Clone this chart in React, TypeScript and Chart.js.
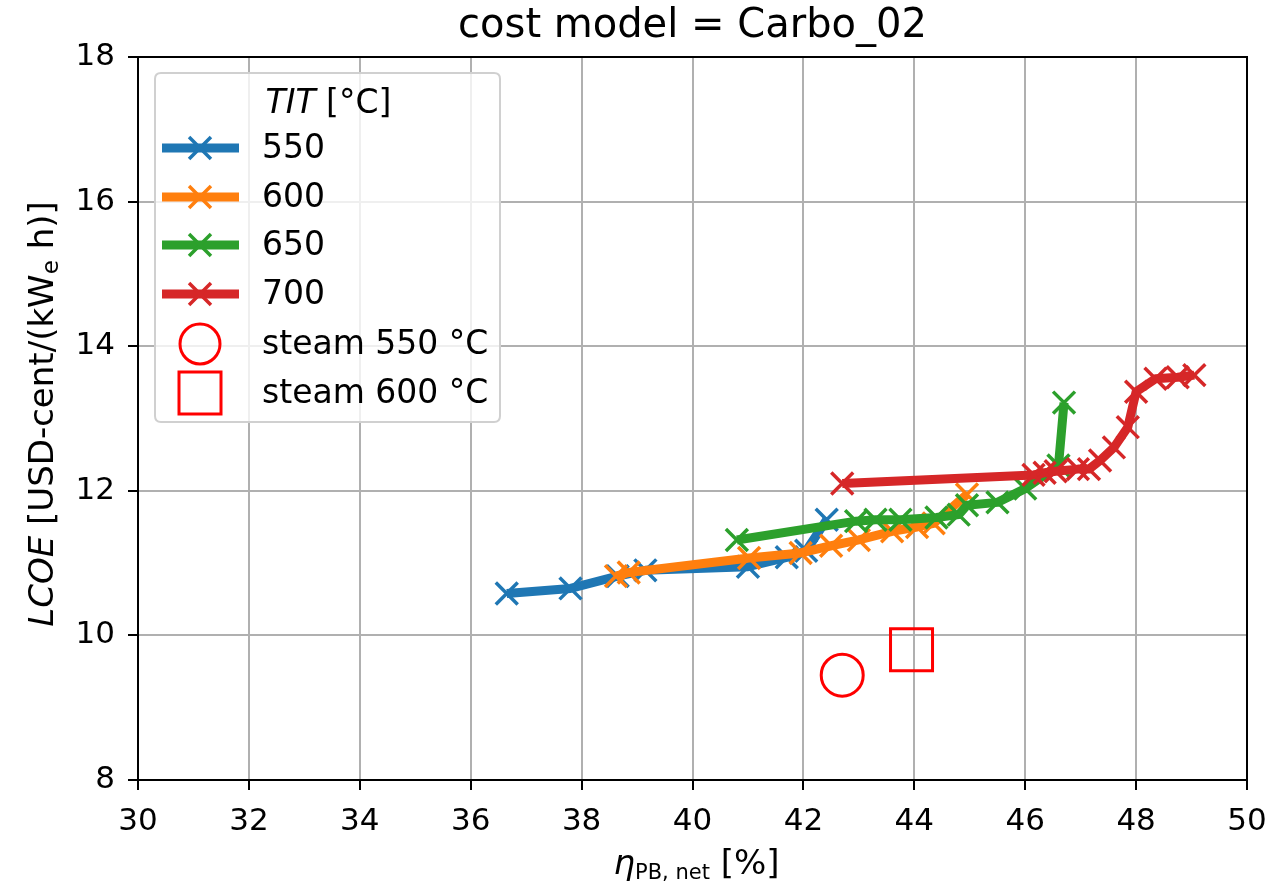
import React, { useEffect, useRef } from 'react';
import { Chart, registerables } from 'chart.js';

Chart.register(...registerables);

const FONT = '"DejaVu Sans", sans-serif';

// ---- data ----
const xTickValues = [30, 32, 34, 36, 38, 40, 42, 44, 46, 48, 50];
const yTickValues = [8, 10, 12, 14, 16, 18];

const seriesLabels = ['550', '600', '650', '700'];
const seriesColors = ['#1f77b4', '#ff7f0e', '#2ca02c', '#d62728'];

const eff550 = [36.65, 37.8, 38.65, 39.15, 41.0, 41.7, 42.05, 42.42];
const lcoe550 = [10.58, 10.65, 10.82, 10.9, 10.95, 11.08, 11.17, 11.6];

const eff600 = [38.62, 38.85, 41.02, 41.95, 42.5, 43.0, 43.6, 44.05, 44.35, 44.95];
const lcoe600 = [10.82, 10.87, 11.07, 11.14, 11.24, 11.32, 11.44, 11.5, 11.55, 11.95];

const eff650 = [40.8, 42.95, 43.3, 43.75, 44.4, 44.8, 44.95, 45.5, 46.0, 46.6, 46.7];
const lcoe650 = [11.32, 11.58, 11.6, 11.6, 11.63, 11.67, 11.8, 11.84, 12.03, 12.35, 13.22];

const eff700 = [42.7, 46.15, 46.35, 46.55, 46.95, 47.15, 47.35, 47.6, 47.85, 48.0, 48.35, 48.75, 49.05];
const lcoe700 = [12.1, 12.22, 12.25, 12.27, 12.3, 12.3, 12.42, 12.6, 12.88, 13.37, 13.55, 13.57, 13.6];

const steamLabels = ['steam 550 °C', 'steam 600 °C'];
const steamEff = [42.7, 43.95];
const steamLcoe = [9.45, 9.8];

const titleText = 'cost model = Carbo_02';

// ---- helpers ----
type Seg = { text: string; font: string; dy: number };

function segWidth(ctx: CanvasRenderingContext2D, segs: Seg[]) {
  let w = 0;
  for (const s of segs) {
    ctx.font = s.font;
    w += ctx.measureText(s.text).width;
  }
  return w;
}

function drawSegs(ctx: CanvasRenderingContext2D, segs: Seg[], cx: number, baseline: number) {
  const w = segWidth(ctx, segs);
  let x = cx - w / 2;
  ctx.textAlign = 'left';
  ctx.textBaseline = 'alphabetic';
  for (const s of segs) {
    ctx.font = s.font;
    ctx.fillText(s.text, x, baseline + s.dy);
    x += ctx.measureText(s.text).width;
  }
}

function drawX(ctx: CanvasRenderingContext2D, x: number, y: number, r: number, color: string) {
  const o = r * Math.SQRT1_2;
  ctx.save();
  ctx.strokeStyle = color;
  ctx.lineWidth = 3.5;
  ctx.beginPath();
  ctx.moveTo(x - o, y - o);
  ctx.lineTo(x + o, y + o);
  ctx.moveTo(x - o, y + o);
  ctx.lineTo(x + o, y - o);
  ctx.stroke();
  ctx.restore();
}

const decorPlugin = {
  id: 'decor',
  afterDraw(chart: any) {
    const ctx: CanvasRenderingContext2D = chart.ctx;
    const ca = chart.chartArea;
    ctx.save();
    // frame
    ctx.strokeStyle = '#000';
    ctx.lineWidth = 2;
    ctx.strokeRect(ca.left, ca.top, ca.right - ca.left, ca.bottom - ca.top);

    ctx.fillStyle = '#000';
    // title
    drawSegs(ctx, [{ text: titleText, font: `40px ${FONT}`, dy: 0 }], (ca.left + ca.right) / 2, 37);

    // x label
    drawSegs(
      ctx,
      [
        { text: 'η', font: `italic 34px ${FONT}`, dy: 0 },
        { text: 'PB, net', font: `21px ${FONT}`, dy: 5 },
        { text: ' [%]', font: `34px ${FONT}`, dy: 0 },
      ],
      (ca.left + ca.right) / 2 + 4,
      874
    );

    // y label
    ctx.save();
    ctx.translate(53, 414);
    ctx.rotate(-Math.PI / 2);
    drawSegs(
      ctx,
      [
        { text: 'LCOE', font: `italic 34px ${FONT}`, dy: 0 },
        { text: ' [USD-cent/(kW', font: `34px ${FONT}`, dy: 0 },
        { text: 'e', font: `23px ${FONT}`, dy: 5 },
        { text: ' h)]', font: `34px ${FONT}`, dy: 0 },
      ],
      0,
      0
    );
    ctx.restore();

    // legend
    const lx = 155, ly = 73, lw = 345, lh = 349, rr = 6;
    ctx.beginPath();
    ctx.moveTo(lx + rr, ly);
    ctx.lineTo(lx + lw - rr, ly);
    ctx.quadraticCurveTo(lx + lw, ly, lx + lw, ly + rr);
    ctx.lineTo(lx + lw, ly + lh - rr);
    ctx.quadraticCurveTo(lx + lw, ly + lh, lx + lw - rr, ly + lh);
    ctx.lineTo(lx + rr, ly + lh);
    ctx.quadraticCurveTo(lx, ly + lh, lx, ly + lh - rr);
    ctx.lineTo(lx, ly + rr);
    ctx.quadraticCurveTo(lx, ly, lx + rr, ly);
    ctx.closePath();
    ctx.fillStyle = 'rgba(255,255,255,0.8)';
    ctx.fill();
    ctx.strokeStyle = '#d0d0d0';
    ctx.lineWidth = 2;
    ctx.stroke();

    ctx.fillStyle = '#000';
    drawSegs(
      ctx,
      [
        { text: 'TIT', font: `italic 33px ${FONT}`, dy: 0 },
        { text: ' [°C]', font: `33px ${FONT}`, dy: 0 },
      ],
      lx + lw / 2 + 1,
      113
    );

    const rowY = [148, 197, 245, 294, 344, 393];
    const handleL = 162, handleR = 239, handleC = 200, textX = 262;
    seriesLabels.forEach((lab, i) => {
      const y = rowY[i];
      ctx.strokeStyle = seriesColors[i];
      ctx.lineWidth = 9;
      ctx.lineCap = 'butt';
      ctx.beginPath();
      ctx.moveTo(handleL, y);
      ctx.lineTo(handleR, y);
      ctx.stroke();
      drawX(ctx, handleC, y, 15.5, seriesColors[i]);
      ctx.fillStyle = '#000';
      ctx.font = `33px ${FONT}`;
      ctx.textAlign = 'left';
      ctx.textBaseline = 'middle';
      ctx.fillText(lab, textX, y + 1);
    });
    // steam circle & square
    ctx.strokeStyle = '#ff0000';
    ctx.lineWidth = 3;
    ctx.beginPath();
    ctx.arc(handleC, rowY[4], 20, 0, Math.PI * 2);
    ctx.stroke();
    ctx.strokeRect(handleC - 21, rowY[5] - 21, 42, 42);
    ctx.fillStyle = '#000';
    ctx.font = `33px ${FONT}`;
    ctx.textAlign = 'left';
    ctx.textBaseline = 'middle';
    ctx.fillText(steamLabels[0], textX, rowY[4] + 1);
    ctx.fillText(steamLabels[1], textX, rowY[5] + 1);

    ctx.restore();
  },
};

function toPoints(xs: number[], ys: number[]) {
  return xs.map((x, i) => ({ x, y: ys[i] }));
}

export default function App() {
  const ref = useRef<HTMLCanvasElement | null>(null);

  useEffect(() => {
    if (!ref.current) return;
    const effs = [eff550, eff600, eff650, eff700];
    const lcoes = [lcoe550, lcoe600, lcoe650, lcoe700];
    const lineSets = seriesLabels.map((lab, i) => ({
      type: 'line' as const,
      label: lab,
      data: toPoints(effs[i], lcoes[i]),
      borderColor: seriesColors[i],
      backgroundColor: seriesColors[i],
      borderWidth: 9,
      borderJoinStyle: 'round' as const,
      pointStyle: 'crossRot' as const,
      pointRadius: 15.5,
      pointBorderWidth: 3.5,
      pointBorderColor: seriesColors[i],
      pointBackgroundColor: seriesColors[i],
      showLine: true,
      fill: false,
      tension: 0,
      order: 4 - i,
    }));
    const steamSets = [
      {
        type: 'scatter' as const,
        label: steamLabels[0],
        data: [{ x: steamEff[0], y: steamLcoe[0] }],
        pointStyle: 'circle' as const,
        pointRadius: 21,
        borderWidth: 3,
        pointBorderColor: '#ff0000',
        borderColor: '#ff0000',
        pointBackgroundColor: 'rgba(0,0,0,0)',
        backgroundColor: 'rgba(0,0,0,0)',
        order: 0,
      },
      {
        type: 'scatter' as const,
        label: steamLabels[1],
        data: [{ x: steamEff[1], y: steamLcoe[1] }],
        pointStyle: 'rect' as const,
        pointRadius: 29.7,
        borderWidth: 3,
        pointBorderColor: '#ff0000',
        borderColor: '#ff0000',
        pointBackgroundColor: 'rgba(0,0,0,0)',
        backgroundColor: 'rgba(0,0,0,0)',
        order: 0,
      },
    ];

    const chart = new Chart(ref.current, {
      type: 'line',
      data: { datasets: [...lineSets, ...steamSets] as any },
      options: {
        animation: false,
        responsive: false,
        devicePixelRatio: 1,
        parsing: false as any,
        layout: { autoPadding: false, padding: { top: 57, right: 29, left: 0, bottom: 0 } },
        plugins: {
          legend: { display: false },
          title: { display: false },
          tooltip: { enabled: false },
        },
        scales: {
          x: {
            type: 'linear',
            min: 30,
            max: 50,
            afterBuildTicks: (scale: any) => {
              scale.ticks = xTickValues.map((v) => ({ value: v }));
            },
            afterFit: (scale: any) => {
              scale.height = 103;
              scale.paddingLeft = 0;
              scale.paddingRight = 0;
            },
            ticks: {
              font: { family: FONT, size: 31 },
              color: '#000',
              padding: 13,
              maxRotation: 0,
              autoSkip: false,
            },
            grid: {
              color: '#b0b0b0',
              lineWidth: 2,
              tickColor: '#000',
              tickLength: 10,
              tickWidth: 2,
            },
            border: { display: true, color: '#000', width: 2 },
          },
          y: {
            type: 'linear',
            min: 8,
            max: 18,
            afterBuildTicks: (scale: any) => {
              scale.ticks = yTickValues.map((v) => ({ value: v }));
            },
            afterFit: (scale: any) => {
              scale.width = 138;
              scale.paddingTop = 0;
              scale.paddingBottom = 0;
            },
            ticks: {
              font: { family: FONT, size: 31 },
              color: '#000',
              padding: 13,
              autoSkip: false,
            },
            grid: {
              color: '#b0b0b0',
              lineWidth: 2,
              tickColor: '#000',
              tickLength: 10,
              tickWidth: 2,
            },
            border: { display: true, color: '#000', width: 2 },
          },
        },
      },
      plugins: [decorPlugin],
    });
    return () => chart.destroy();
  }, []);

  return (
    <div style={{ position: 'absolute', left: 0, top: 0, width: 1276, height: 883, background: '#fff' }}>
      <canvas ref={ref} width={1276} height={883} style={{ display: 'block' }} />
    </div>
  );
}
